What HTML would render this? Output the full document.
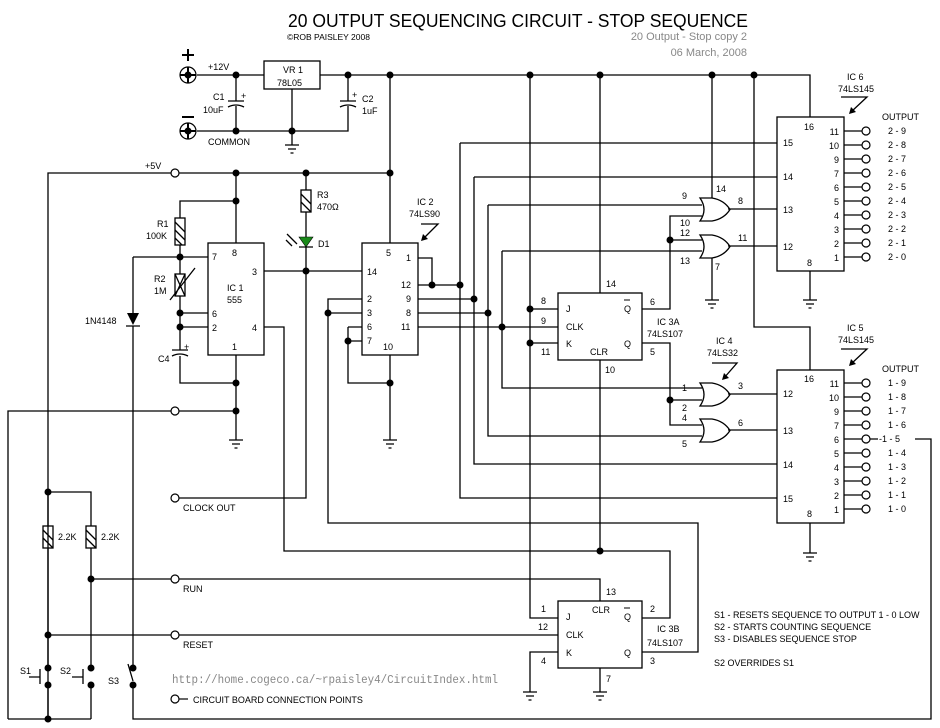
<!DOCTYPE html>
<html><head><meta charset="utf-8"><style>
html,body{margin:0;padding:0;background:#fff;}
svg{display:block;}
text{font-family:"Liberation Sans",sans-serif;font-size:9px;fill:#000;}
.m{font-family:"Liberation Sans",sans-serif;fill:#888;font-size:11px;}
.u{font-family:"Liberation Mono",monospace;fill:#888;font-size:12px;}
</style></head><body>
<svg width="940" height="728" viewBox="0 0 940 728" xmlns="http://www.w3.org/2000/svg">
<g fill="none" stroke="#000" stroke-width="1.3">
<path d="M197,75 H264 M320,75 H810 V117 M197,131 H348 V106 M348,101 V75 M236,75 V101 M236,106 V131 M292,89 V145"/>
<rect x="264" y="61" width="56" height="28"/>
<path d="M228,101 H244 M228,107 Q236,103 244,107 M340,101 H356 M340,107 Q348,103 356,107"/>
<path d="M48,719 V173 H390 M390,75 V243 M236,173 V243 M236,201 H180 V218 M180,245 V274 M180,296 V350 M180,356 V383 H236 M133,257 H208 M180,313 H208 M180,327 H208"/>
<path d="M172,350 H188 M172,356 Q180,352 188,356"/>
<path d="M133,257 V313 M133,326 V668 M133,685 V719 H931 V439 H915 M236,355 V440 M8,719 V411 H236 M8,719 H91"/>
<path d="M264,271 H362 M306,173 V190 M306,212 V237 M306,247 V498 H175"/>
<path d="M264,327 H284 V551 H670 V618 H642"/>
<path d="M48,492 H91 V526 M48,492 V526 M48,548 V668 M48,685 V719 M91,548 V668 M91,685 V719"/>
<path d="M91,579 H600 V601 M48,635 H558"/>
<path d="M600,75 V293 M600,360 V551 M530,75 V618 H558 M530,309 H558 M530,343 H558 M558,652 H530 V692 M600,668 V692"/>
<path d="M642,652 H698 V523 H328 V299 H362 M328,313 H362"/>
<path d="M348,327 H362 M348,341 H362 M348,327 V383 H390 M390,355 V440"/>
<path d="M418,258 H432 V285 M418,285 H460 M460,143 V498 H777 M460,143 H777"/>
<path d="M418,299 H474 M474,177 V464 H777 M474,177 H777"/>
<path d="M418,313 H488 M488,205 V436 H702 M488,205 H702"/>
<path d="M418,327 H558 M502,251 V388 H702 M502,251 H702"/>
<path d="M642,309 H670 V216 H702 M670,240 H702 M642,343 H670 V425 H702 M670,400 H702"/>
<path d="M728,209 H777 M728,246 H777 M728,394 H777 M728,430 H777"/>
<path d="M712,75 V198 M712,258 V300 M754,75 V327 H810 V370 M810,271 V300 M810,523 V553"/>
<path d="M844,131 H862 M844,145 H862 M844,159 H862 M844,173 H862 M844,187 H862 M844,201 H862 M844,215 H862 M844,229 H862 M844,243 H862 M844,257 H862"/>
<path d="M844,383 H862 M844,397 H862 M844,411 H862 M844,425 H862 M844,439 H862 M844,453 H862 M844,467 H862 M844,481 H862 M844,495 H862 M844,509 H862 M870,439 H878"/>
<rect x="208" y="243" width="56" height="112"/>
<rect x="362" y="243" width="56" height="112"/>
<rect x="558" y="293" width="84" height="67"/>
<rect x="558" y="601" width="84" height="67"/>
<rect x="777" y="117" width="67" height="154"/>
<rect x="777" y="370" width="67" height="153"/>
<path d="M700,198 Q708,209.5 700,221 H712 Q724,219 730,209.5 Q724,200 712,198 Z"/>
<path d="M700,235 Q708,246.5 700,258 H712 Q724,256 730,246.5 Q724,237 712,235 Z"/>
<path d="M700,383 Q708,394.5 700,406 H712 Q724,404 730,394.5 Q724,385 712,383 Z"/>
<path d="M700,419 Q708,430.5 700,442 H712 Q724,440 730,430.5 Q724,421 712,419 Z"/>
<path d="M285,145 H299 M288,149 H296 M290.5,153 H293.5"/>
<path d="M229,440 H243 M232,444 H240 M234.5,448 H237.5 M383,440 H397 M386,444 H394 M388.5,448 H391.5 M705,300 H719 M708,304 H716 M710.5,308 H713.5 M803,300 H817 M806,304 H814 M808.5,308 H811.5 M803,553 H817 M806,557 H814 M808.5,561 H811.5 M523,692 H537 M526,696 H534 M528.5,700 H531.5 M593,692 H607 M596,696 H604 M598.5,700 H601.5"/>
<rect x="175" y="218" width="10" height="27"/><path d="M175,222 L185,232 M175,230 L185,240 M175,238 L182,245"/>
<rect x="175" y="274" width="10" height="22"/><path d="M175,274 L185,296 M185,274 L175,296 M170,300 L195,268"/>
<rect x="301" y="190" width="10" height="22"/><path d="M301,194 L311,204 M301,202 L311,212"/>
<rect x="43" y="526" width="10" height="22"/><path d="M43,530 L53,540 M43,538 L53,548"/>
<rect x="86" y="526" width="10" height="22"/><path d="M86,530 L96,540 M86,538 L96,548"/>
<path d="M126,326 H140 M299,247 H313"/>
<path d="M40,669 V684 M29,677 H40 M83,669 V684 M72,677 H83 M128,664 L133,681"/>
<path d="M297,244 L287,234 M292,246 L286,240"/>
<path d="M421,224 H438 L423,239 M841,97 H867 L851,112 M712,363 H737 L724,378 M841,349 H867 L851,364"/>
<path d="M180,75 H196 M188,67 V83 M180,131 H196 M188,123 V139 M182,55 H194 M188,49 V61 M182,117 H194" stroke-width="2"/>
</g>
<g fill="#000">
<circle cx="188" cy="75" r="3.5"/><circle cx="188" cy="131" r="3.5"/>
<path d="M127,313 H139 L133,325 Z"/>
<path d="M421,241 l2,-7 5,5 Z M849,114 l2,-7 5,5 Z M722,380 l2,-7 5,5 Z M849,366 l2,-7 5,5 Z"/>
<circle cx="236" cy="75" r="3.5"/><circle cx="348" cy="75" r="3.5"/><circle cx="390" cy="75" r="3.5"/><circle cx="530" cy="75" r="3.5"/><circle cx="600" cy="75" r="3.5"/><circle cx="712" cy="75" r="3.5"/><circle cx="754" cy="75" r="3.5"/>
<circle cx="236" cy="131" r="3.5"/><circle cx="292" cy="131" r="3.5"/>
<circle cx="236" cy="173" r="3.5"/><circle cx="306" cy="173" r="3.5"/><circle cx="390" cy="173" r="3.5"/>
<circle cx="236" cy="201" r="3.5"/><circle cx="180" cy="257" r="3.5"/><circle cx="180" cy="313" r="3.5"/><circle cx="180" cy="327" r="3.5"/>
<circle cx="236" cy="383" r="3.5"/><circle cx="236" cy="411" r="3.5"/><circle cx="306" cy="271" r="3.5"/>
<circle cx="432" cy="285" r="3.5"/><circle cx="460" cy="285" r="3.5"/><circle cx="474" cy="299" r="3.5"/><circle cx="488" cy="313" r="3.5"/><circle cx="502" cy="327" r="3.5"/>
<circle cx="328" cy="313" r="3.5"/><circle cx="348" cy="341" r="3.5"/><circle cx="390" cy="383" r="3.5"/>
<circle cx="530" cy="309" r="3.5"/><circle cx="530" cy="343" r="3.5"/><circle cx="670" cy="240" r="3.5"/><circle cx="670" cy="400" r="3.5"/>
<circle cx="600" cy="551" r="3.5"/>
<circle cx="48" cy="492" r="3.5"/><circle cx="91" cy="579" r="3.5"/><circle cx="48" cy="635" r="3.5"/>
<circle cx="48" cy="668" r="3.5"/><circle cx="48" cy="685" r="3.5"/><circle cx="91" cy="668" r="3.5"/><circle cx="91" cy="685" r="3.5"/>
<circle cx="133" cy="668" r="3.5"/><circle cx="133" cy="685" r="3.5"/><circle cx="48" cy="719" r="3.5"/>
</g>
<path d="M299,237 H313 L306,247 Z" fill="#1a8a1a" stroke="#000" stroke-width="0.6"/>
<g fill="#fff" stroke="#000" stroke-width="1.2">
<circle cx="188" cy="75" r="8" fill="none"/><circle cx="188" cy="131" r="8" fill="none"/>
<circle cx="175" cy="173" r="4"/><circle cx="175" cy="411" r="4"/><circle cx="175" cy="498" r="4"/><circle cx="175" cy="579" r="4"/><circle cx="175" cy="635" r="4"/><circle cx="175" cy="699" r="4"/>
<path d="M179,699 H188" fill="none"/>
<circle cx="866" cy="131" r="4"/><circle cx="866" cy="145" r="4"/><circle cx="866" cy="159" r="4"/><circle cx="866" cy="173" r="4"/><circle cx="866" cy="187" r="4"/><circle cx="866" cy="201" r="4"/><circle cx="866" cy="215" r="4"/><circle cx="866" cy="229" r="4"/><circle cx="866" cy="243" r="4"/><circle cx="866" cy="257" r="4"/>
<circle cx="866" cy="383" r="4"/><circle cx="866" cy="397" r="4"/><circle cx="866" cy="411" r="4"/><circle cx="866" cy="425" r="4"/><circle cx="866" cy="439" r="4"/><circle cx="866" cy="453" r="4"/><circle cx="866" cy="467" r="4"/><circle cx="866" cy="481" r="4"/><circle cx="866" cy="495" r="4"/><circle cx="866" cy="509" r="4"/>
</g>
<text x="288" y="27" style="font-size:18px" textLength="460" lengthAdjust="spacingAndGlyphs">20 OUTPUT SEQUENCING CIRCUIT - STOP SEQUENCE</text>
<text x="287" y="40" style="font-size:8.5px">©ROB PAISLEY 2008</text>
<text class="m" x="747" y="40" text-anchor="end">20 Output - Stop copy 2</text>
<text class="m" x="747" y="56" text-anchor="end">06 March, 2008</text>
<text x="208" y="70">+12V</text><text x="283" y="73">VR 1</text><text x="277" y="86">78L05</text>
<text x="213" y="100">C1</text><text x="203" y="113">10uF</text><text x="241" y="99">+</text>
<text x="362" y="102">C2</text><text x="362" y="114">1uF</text><text x="352" y="98">+</text>
<text x="208" y="145">COMMON</text>
<text x="145" y="169">+5V</text>
<text x="157" y="227">R1</text><text x="146" y="239">100K</text>
<text x="154" y="282">R2</text><text x="154" y="294">1M</text>
<text x="317" y="198">R3</text><text x="317" y="210">470Ω</text><text x="318" y="247">D1</text>
<text x="85" y="324">1N4148</text>
<text x="158" y="362">C4</text><text x="184" y="350">+</text>
<text x="212" y="260">7</text><text x="232" y="256">8</text><text x="252" y="275">3</text>
<text x="227" y="291">IC 1</text><text x="227" y="303">555</text>
<text x="212" y="317">6</text><text x="212" y="331">2</text><text x="252" y="331">4</text><text x="232" y="350">1</text>
<text x="417" y="205">IC 2</text><text x="409" y="217">74LS90</text>
<text x="386" y="256">5</text><text x="406" y="261">1</text><text x="367" y="275">14</text>
<text x="401" y="288">12</text><text x="406" y="302">9</text><text x="406" y="316">8</text><text x="401" y="330">11</text>
<text x="367" y="302">2</text><text x="367" y="316">3</text><text x="367" y="330">6</text><text x="367" y="344">7</text><text x="383" y="350">10</text>
<text x="541" y="304">8</text><text x="541" y="324">9</text><text x="541" y="355">11</text>
<text x="566" y="312">J</text><text x="566" y="330">CLK</text><text x="566" y="347">K</text><text x="590" y="355">CLR</text>
<text x="624" y="312">Q</text><path d="M624,300 H630" stroke="#000"/><text x="624" y="347">Q</text>
<text x="606" y="287">14</text><text x="650" y="305">6</text><text x="650" y="355">5</text><text x="605" y="373">10</text>
<text x="657" y="325">IC 3A</text><text x="647" y="337">74LS107</text>
<text x="716" y="192">14</text><text x="682" y="199">9</text><text x="738" y="204">8</text><text x="680" y="226">10</text><text x="680" y="236">12</text><text x="738" y="241">11</text><text x="680" y="264">13</text><text x="715" y="270">7</text>
<text x="716" y="344">IC 4</text><text x="707" y="356">74LS32</text>
<text x="682" y="391">1</text><text x="738" y="389">3</text><text x="682" y="411">2</text><text x="682" y="421">4</text><text x="738" y="426">6</text><text x="682" y="447">5</text>
<text x="847" y="80">IC 6</text><text x="838" y="92">74LS145</text><text x="882" y="120">OUTPUT</text>
<text x="804" y="130">16</text><text x="783" y="146">15</text><text x="783" y="180">14</text><text x="783" y="213">13</text><text x="783" y="250">12</text><text x="807" y="266">8</text>
<text x="839" y="135" text-anchor="end">11</text><text x="839" y="149" text-anchor="end">10</text><text x="839" y="163" text-anchor="end">9</text><text x="839" y="177" text-anchor="end">7</text><text x="839" y="191" text-anchor="end">6</text><text x="839" y="205" text-anchor="end">5</text><text x="839" y="219" text-anchor="end">4</text><text x="839" y="233" text-anchor="end">3</text><text x="839" y="247" text-anchor="end">2</text><text x="839" y="261" text-anchor="end">1</text>
<text x="888" y="134">2 - 9</text><text x="888" y="148">2 - 8</text><text x="888" y="162">2 - 7</text><text x="888" y="176">2 - 6</text><text x="888" y="190">2 - 5</text><text x="888" y="204">2 - 4</text><text x="888" y="218">2 - 3</text><text x="888" y="232">2 - 2</text><text x="888" y="246">2 - 1</text><text x="888" y="260">2 - 0</text>
<text x="847" y="331">IC 5</text><text x="838" y="343">74LS145</text><text x="882" y="372">OUTPUT</text>
<text x="804" y="382">16</text><text x="783" y="397">12</text><text x="783" y="434">13</text><text x="783" y="468">14</text><text x="783" y="502">15</text><text x="807" y="517">8</text>
<text x="839" y="387" text-anchor="end">11</text><text x="839" y="401" text-anchor="end">10</text><text x="839" y="415" text-anchor="end">9</text><text x="839" y="429" text-anchor="end">7</text><text x="839" y="443" text-anchor="end">6</text><text x="839" y="457" text-anchor="end">5</text><text x="839" y="471" text-anchor="end">4</text><text x="839" y="485" text-anchor="end">3</text><text x="839" y="499" text-anchor="end">2</text><text x="839" y="513" text-anchor="end">1</text>
<text x="888" y="386">1 - 9</text><text x="888" y="400">1 - 8</text><text x="888" y="414">1 - 7</text><text x="888" y="428">1 - 6</text><text x="879" y="442">-1 - 5</text><text x="888" y="456">1 - 4</text><text x="888" y="470">1 - 3</text><text x="888" y="484">1 - 2</text><text x="888" y="498">1 - 1</text><text x="888" y="512">1 - 0</text>
<text x="183" y="511">CLOCK OUT</text><text x="183" y="592">RUN</text><text x="183" y="648">RESET</text>
<text x="58" y="540">2.2K</text><text x="101" y="540">2.2K</text>
<text x="20" y="674">S1</text><text x="60" y="674">S2</text><text x="108" y="684">S3</text>
<text class="u" x="172" y="683" textLength="326" lengthAdjust="spacingAndGlyphs">http://home.cogeco.ca/~rpaisley4/CircuitIndex.html</text>
<text x="193" y="703">CIRCUIT BOARD CONNECTION POINTS</text>
<text x="606" y="595">13</text><text x="541" y="612">1</text><text x="538" y="630">12</text><text x="541" y="664">4</text>
<text x="566" y="620">J</text><text x="592" y="613">CLR</text><text x="566" y="638">CLK</text><text x="566" y="656">K</text>
<text x="624" y="620">Q</text><path d="M624,608 H630" stroke="#000"/><text x="624" y="656">Q</text>
<text x="650" y="612">2</text><text x="650" y="664">3</text><text x="606" y="682">7</text>
<text x="657" y="632">IC 3B</text><text x="647" y="646">74LS107</text>
<text x="714" y="618">S1 - RESETS SEQUENCE TO OUTPUT 1 - 0 LOW</text>
<text x="714" y="630">S2 - STARTS COUNTING SEQUENCE</text>
<text x="714" y="642">S3 - DISABLES SEQUENCE STOP</text>
<text x="714" y="666">S2 OVERRIDES S1</text>
</svg>
</body></html>
